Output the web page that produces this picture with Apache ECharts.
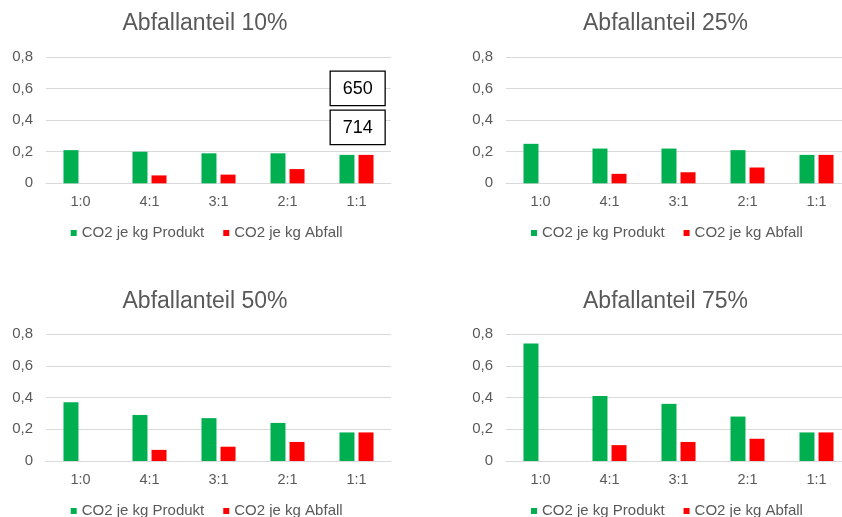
<!DOCTYPE html>
<html>
<head>
<meta charset="utf-8">
<script src="https://cdn.jsdelivr.net/npm/echarts@6/dist/echarts.min.js"></script>
<style>
  html, body { margin: 0; padding: 0; background: #fff; }
  #chart { width: 842px; height: 517px; }
</style>
</head>
<body>
<div id="chart"></div>
<script>
// Mischverhältnisse Produkt : Abfall
const categories = ['1:0', '4:1', '3:1', '2:1', '1:1'];
const seriesNames = ['CO2 je kg Produkt', 'CO2 je kg Abfall'];
const panelTitles = ['Abfallanteil 10%', 'Abfallanteil 25%', 'Abfallanteil 50%', 'Abfallanteil 75%'];
const yTicks = [0, 0.2, 0.4, 0.6, 0.8];

// CO2 je kg, pro Abfallanteil
const produkt10 = [0.21, 0.20, 0.19, 0.19, 0.18];
const abfall10  = [0,    0.05, 0.055, 0.09, 0.18];
const produkt25 = [0.25, 0.22, 0.22, 0.21, 0.18];
const abfall25  = [0,    0.06, 0.07, 0.10, 0.18];
const produkt50 = [0.37, 0.29, 0.27, 0.24, 0.18];
const abfall50  = [0,    0.07, 0.09, 0.12, 0.18];
const produkt75 = [0.74, 0.41, 0.36, 0.28, 0.18];
const abfall75  = [0,    0.10, 0.12, 0.14, 0.18];

// Notizfelder im ersten Diagramm
const noteTexts = ['650', '714'];

const panels = [
  { title: panelTitles[0], produkt: produkt10, abfall: abfall10 },
  { title: panelTitles[1], produkt: produkt25, abfall: abfall25 },
  { title: panelTitles[2], produkt: produkt50, abfall: abfall50 },
  { title: panelTitles[3], produkt: produkt75, abfall: abfall75 }
];

const GREEN = '#00B050';
const RED = '#FF0000';
const TEXT = '#595959';
const GRID = '#D9D9D9';
const FONT = 'Arial, "Liberation Sans", sans-serif';

// Layout of the 2x2 panels (the right column runs slightly past the page edge)
const layout = [
  { left: 46,  top: 57,  height: 126.3, titleX: 205,   titleY: 12.5, legX: 70.7, legY: 225.5 },
  { left: 506, top: 57,  height: 126.3, titleX: 665.5, titleY: 12.5, legX: 531,  legY: 225.5 },
  { left: 46,  top: 334, height: 127,   titleX: 205,   titleY: 290,  legX: 70.7, legY: 503.5 },
  { left: 506, top: 334, height: 127,   titleX: 665.5, titleY: 290,  legX: 531,  legY: 503.5 }
];

const option = {
  animation: false,
  backgroundColor: '#ffffff',
  textStyle: { fontFamily: FONT },
  title: [], grid: [], xAxis: [], yAxis: [], legend: [], series: []
};

panels.forEach((p, i) => {
  const L = layout[i];
  option.title.push({
    text: p.title, left: L.titleX, top: L.titleY, textAlign: 'center', padding: 0,
    textStyle: { fontFamily: FONT, fontSize: 23, fontWeight: 'normal', color: TEXT }
  });
  option.grid.push({
    left: L.left, top: L.top, width: 345, height: L.height,
    containLabel: false, outerBoundsMode: 'none'
  });
  option.xAxis.push({
    type: 'category', gridIndex: i, data: categories,
    axisLine: { lineStyle: { color: GRID, width: 1 } },
    axisTick: { show: false },
    axisLabel: { color: TEXT, fontSize: 14.5, margin: 11, fontFamily: FONT }
  });
  option.yAxis.push({
    type: 'value', gridIndex: i, min: yTicks[0], max: yTicks[yTicks.length - 1], interval: 0.2,
    axisLine: { show: false }, axisTick: { show: false },
    splitLine: { lineStyle: { color: GRID, width: 1 } },
    axisLabel: {
      color: TEXT, fontSize: 15, margin: 13, fontFamily: FONT,
      formatter: v => (Math.round(v * 10) / 10).toString().replace('.', ',')
    }
  });
  option.legend.push({
    data: seriesNames, left: L.legX, top: L.legY, padding: 0,
    icon: 'rect', itemWidth: 6, itemHeight: 6, itemGap: 19,
    textStyle: { color: TEXT, fontSize: 15, fontFamily: FONT }
  });
  option.series.push({
    name: seriesNames[0], type: 'bar', xAxisIndex: i, yAxisIndex: i,
    data: p.produkt, barWidth: 15, barGap: '27%',
    itemStyle: { color: GREEN }
  });
  option.series.push({
    name: seriesNames[1], type: 'bar', xAxisIndex: i, yAxisIndex: i,
    data: p.abfall, barWidth: 15, barGap: '27%',
    itemStyle: { color: RED }
  });
});

// Boxed notes in the upper-left chart, drawn above the grid lines
option.graphic = noteTexts.map((t, k) => ({
  type: 'group',
  left: 329.5, top: k === 0 ? 70.5 : 109.5,
  z: 100,
  children: [
    { type: 'rect', z: 100, shape: { x: 0, y: 0, width: 55, height: 34.5 },
      style: { fill: '#ffffff', stroke: '#000000', lineWidth: 1.3 } },
    { type: 'text', z: 101, x: 27.5, y: 17.5,
      style: { text: t, fill: '#000000', font: '18px ' + FONT, align: 'center', verticalAlign: 'middle' } }
  ]
}));

const chart = echarts.init(document.getElementById('chart'), null, { renderer: 'canvas' });
chart.setOption(option);
</script>
</body>
</html>
